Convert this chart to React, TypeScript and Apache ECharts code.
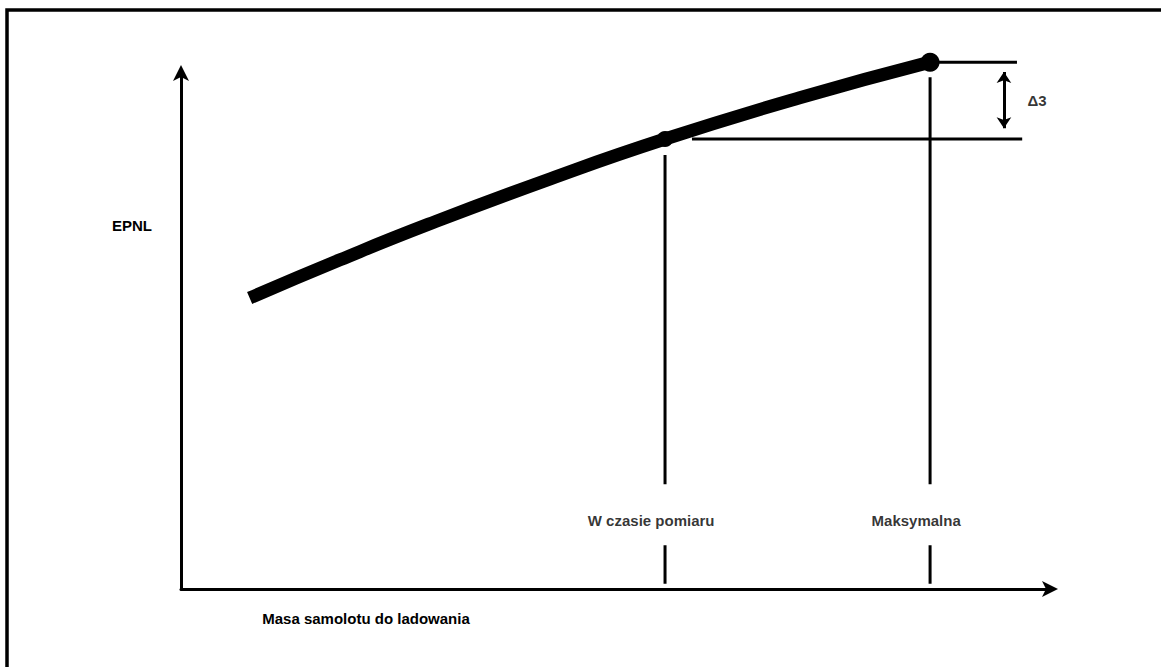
import React, { useEffect, useRef } from "react";
import * as echarts from "echarts";

// Curve: aircraft landing mass (x) vs EPNL (y), arbitrary units
const massX = [7.9, 18.3, 28.5, 42.5, 55.7, 71.2, 86.2];
const epnlY = [56.4, 63.8, 70.7, 79.5, 87.2, 95.2, 102.1];

// Marked points
const measuredMass = 55.7;
const measuredEpnl = 87.2;
const maxMass = 86.2;
const maxEpnl = 102.1;

// Reference lines
const measuredLineTop = 84.1;
const maxLineTop = 99.2;
const labelGapTop = 20.3;
const labelGapBottom = 8.5;
const dropBottom = 1.0;
const refLineEnd = 96.2;
const measuredRefStart = 58.8;
const deltaArrowX = 94.7;
const deltaTop = 100.2;
const deltaBottom = 89.3;
const deltaLabelX = 98.5;
const deltaLabelY = 94.6;

const labelY = 13.3;
const xLabels = ["W czasie pomiaru", "Maksymalna"];
const xTitle = "Masa samolotu do ladowania";
const yTitle = "EPNL";
const deltaLabel = "Δ3";

const FAMILY = "'Liberation Sans', Arial, sans-serif";
const FONT = "bold 15px " + FAMILY;

export default function App() {
  const ref = useRef<HTMLDivElement>(null);
  useEffect(() => {
    document.body.style.margin = "0";
    const chart = echarts.init(ref.current!, null, { renderer: "svg" });
    const black = "#000";
    const thin = { color: black, width: 3 };
    const plainLine = (data: any[]) => ({
      type: "line",
      data,
      showSymbol: false,
      symbol: "none",
      clip: false,
      lineStyle: thin,
      silent: true,
      connectNulls: false,
    });
    const axisLine = {
      show: true,
      lineStyle: { color: black, width: 3 },
      symbol: ["none", "arrow"],
      symbolSize: [12, 16],
      symbolOffset: [0, 8],
    };
    chart.setOption({
      animation: false,
      backgroundColor: "#fff",
      grid: { left: 181, right: 111, top: 73, bottom: 78 },
      xAxis: {
        type: "value",
        min: 0,
        max: 100,
        axisLine,
        axisTick: { show: false },
        axisLabel: { show: false },
        splitLine: { show: false },
      },
      yAxis: {
        type: "value",
        min: 0,
        max: 100,
        axisLine,
        axisTick: { show: false },
        axisLabel: { show: false },
        splitLine: { show: false },
      },
      graphic: [
        {
          type: "rect",
          shape: { x: 7, y: 10, width: 1200, height: 700 },
          style: { fill: "none", stroke: black, lineWidth: 3.5 },
          silent: true,
        },
        {
          type: "text",
          x: 112,
          y: 225,
          style: { text: yTitle, font: FONT, fill: black, textVerticalAlign: "middle" },
        },
        {
          type: "text",
          x: 366,
          y: 618,
          style: { text: xTitle, font: FONT, fill: black, textAlign: "center", textVerticalAlign: "middle" },
        },
      ],
      series: [
        plainLine([
          [measuredMass, measuredLineTop],
          [measuredMass, labelGapTop],
          null,
          [measuredMass, labelGapBottom],
          [measuredMass, dropBottom],
        ]),
        plainLine([
          [maxMass, maxLineTop],
          [maxMass, labelGapTop],
          null,
          [maxMass, labelGapBottom],
          [maxMass, dropBottom],
        ]),
        plainLine([
          [maxMass, maxEpnl],
          [refLineEnd, maxEpnl],
        ]),
        plainLine([
          [measuredRefStart, measuredEpnl],
          [refLineEnd + 0.6, measuredEpnl],
        ]),
        {
          type: "line",
          data: massX.map((x, i) => [x, epnlY[i]]),
          smooth: true,
          showSymbol: false,
          symbol: "none",
          clip: false,
          lineStyle: { color: black, width: 13, cap: "butt" },
        },
        {
          type: "scatter",
          data: [
            { value: [measuredMass, measuredEpnl], symbolSize: 16 },
            { value: [maxMass, maxEpnl], symbolSize: 19 },
          ],
          itemStyle: { color: black, opacity: 1 },
          clip: false,
        },
        {
          type: "lines",
          coordinateSystem: "cartesian2d",
          data: [{ coords: [[deltaArrowX, deltaTop], [deltaArrowX, deltaBottom]] }],
          symbol: ["arrow", "arrow"],
          symbolSize: 11,
          lineStyle: { color: black, width: 3, opacity: 1 },
          silent: true,
        },
        {
          type: "scatter",
          symbolSize: 0,
          clip: false,
          silent: true,
          data: [
            { value: [measuredMass - 1.6, labelY], name: xLabels[0] },
            { value: [maxMass - 1.6, labelY], name: xLabels[1] },
            { value: [deltaLabelX, deltaLabelY], name: deltaLabel },
          ],
          label: {
            show: true,
            position: "inside",
            formatter: (p: any) => p.name,
            color: black,
            fontFamily: FAMILY,
            fontWeight: "bold",
            fontSize: 15,
          },
        },
      ],
    });
    return () => chart.dispose();
  }, []);
  return <div ref={ref} style={{ width: 1161, height: 667 }} />;
}
